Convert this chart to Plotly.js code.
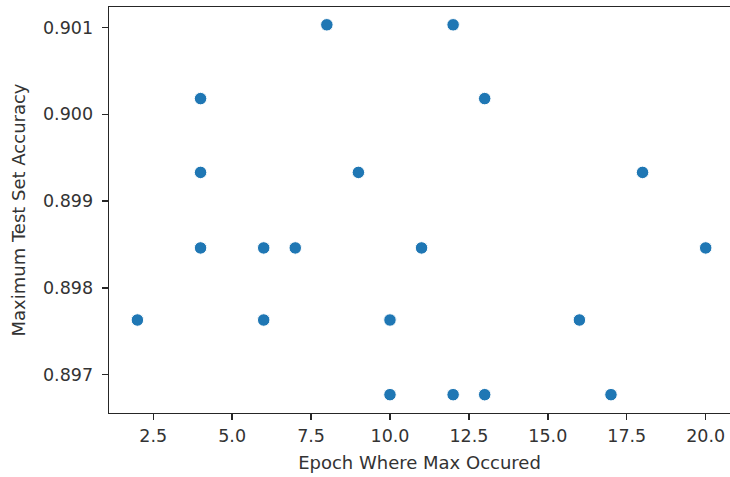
<!DOCTYPE html>
<html>
<head>
<meta charset="utf-8">
<script src="https://cdn.plot.ly/plotly-3.0.1.min.js"></script>
<style>html,body{margin:0;padding:0;background:#fff;}#chart{width:730px;height:477px;}</style>
</head>
<body>
<div id="chart"></div>
<script>
const epochs = [2, 4, 4, 4, 6, 6, 7, 8, 9, 10, 10, 11, 12, 12, 13, 13, 16, 17, 18, 20];
const accuracy = [0.89763, 0.90018, 0.89933, 0.89846, 0.89846, 0.89763, 0.89846, 0.90103, 0.89933, 0.89763, 0.89677, 0.89846, 0.90103, 0.89677, 0.90018, 0.89677, 0.89763, 0.89677, 0.89933, 0.89846];
const xTitle = 'Epoch Where Max Occured';
const yTitle = 'Maximum Test Set Accuracy';

const textColor = '#333333';
const lineColor = '#262626';
const fontFamily = 'DejaVu Sans, sans-serif';

const trace = {
  x: epochs,
  y: accuracy,
  type: 'scatter',
  mode: 'markers',
  marker: {color: '#1f77b4', size: 12.5, line: {color: '#ffffff', width: 1}},
  hoverinfo: 'x+y'
};

const layout = {
  width: 730,
  height: 477,
  margin: {l: 109, r: 0, t: 7, b: 64, pad: 0},
  paper_bgcolor: '#ffffff',
  plot_bgcolor: '#ffffff',
  showlegend: false,
  font: {family: fontFamily, size: 17.5, color: textColor},
  xaxis: {
    range: [1.1, 20.77],
    tick0: 0,
    dtick: 2.5,
    tickformat: '.1f',
    showgrid: false,
    zeroline: false,
    showline: true,
    mirror: true,
    linecolor: lineColor,
    linewidth: 1.4,
    ticks: 'outside',
    ticklen: 6,
    tickwidth: 1.4,
    tickcolor: lineColor,
    ticklabelstandoff: 1,
    tickfont: {family: fontFamily, size: 17.5, color: textColor},
    title: {text: xTitle, font: {family: fontFamily, size: 18, color: textColor}, standoff: 11},
    automargin: false
  },
  yaxis: {
    range: [0.896559, 0.901235],
    tick0: 0.897,
    dtick: 0.001,
    tickformat: '.3f',
    showgrid: false,
    zeroline: false,
    showline: true,
    mirror: false,
    linecolor: lineColor,
    linewidth: 1.4,
    ticks: 'outside',
    ticklen: 6,
    tickwidth: 1.4,
    tickcolor: lineColor,
    ticklabelstandoff: 5,
    tickfont: {family: fontFamily, size: 17.5, color: textColor},
    title: {text: yTitle, font: {family: fontFamily, size: 18, color: textColor}, standoff: 12},
    automargin: false
  }
};

Plotly.newPlot('chart', [trace], layout, {displayModeBar: false, staticPlot: true});
</script>
</body>
</html>
